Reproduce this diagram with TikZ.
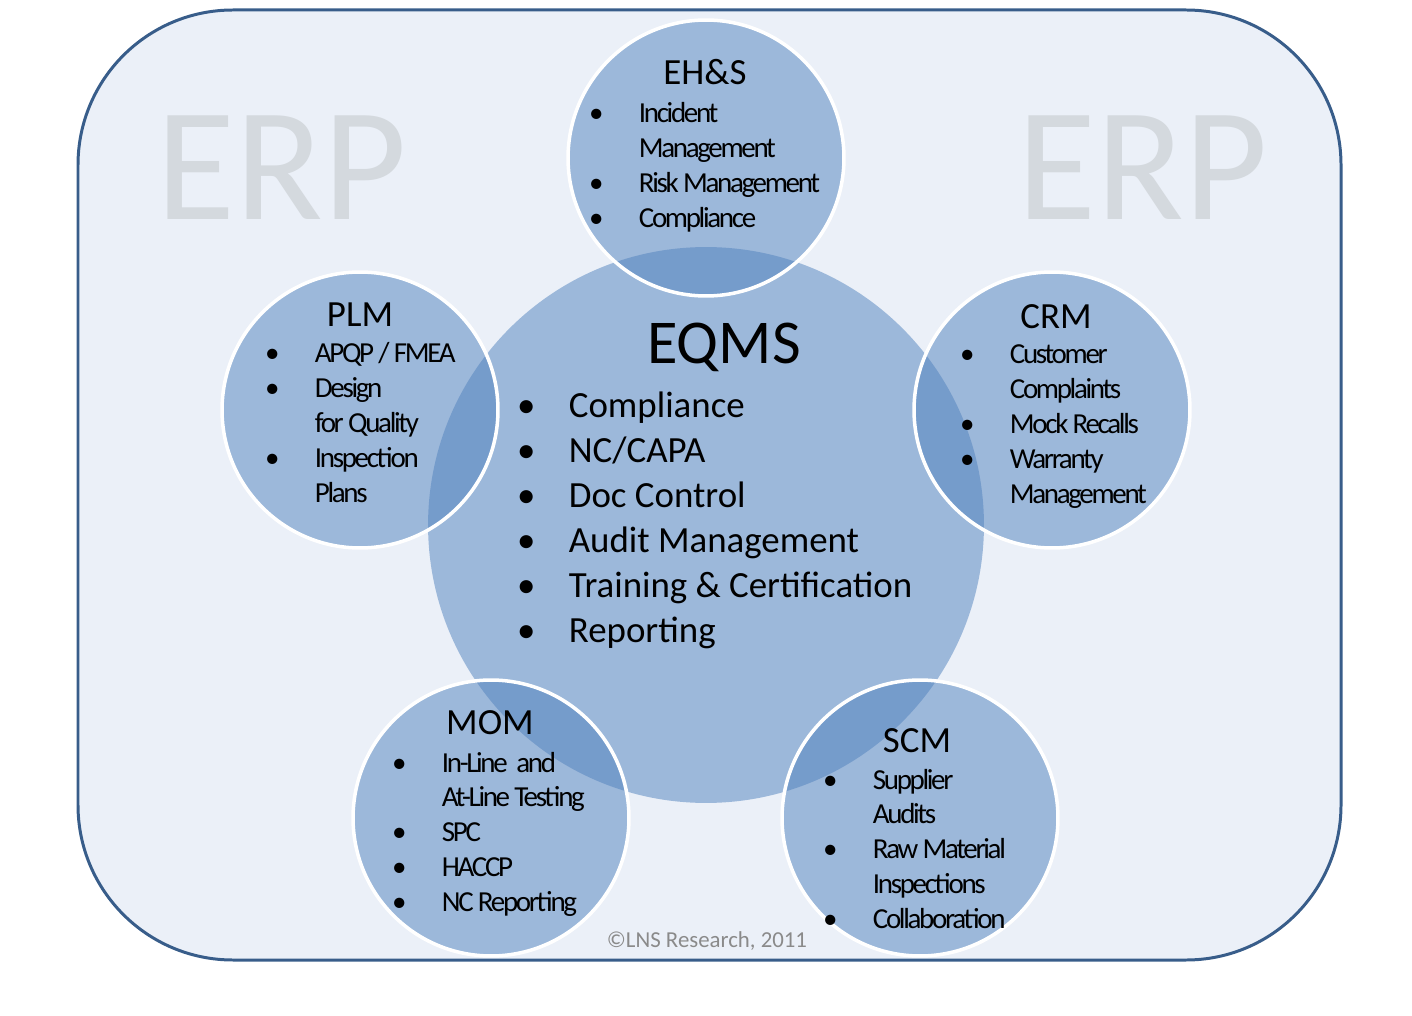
\documentclass[tikz,border=0pt]{standalone}
\usepackage{fontspec}
\setmainfont{Carlito}
\newfontfamily\tightfont[LetterSpace=-8]{Carlito}
\definecolor{framecol}{HTML}{385D8A}
\definecolor{paper}{HTML}{EBF0F8}
\definecolor{bubblecol}{HTML}{4F81BD}
\definecolor{erpgray}{HTML}{D4D9DE}
\definecolor{notegray}{HTML}{8A8A8A}
\newcommand{\bul}{\makebox[24.2pt][l]{\makebox[0pt]{\textbullet}}}
\begin{document}
\begin{tikzpicture}[x=0.02cm, y=-0.02cm,
  bigbubble/.style={circle, fill=bubblecol, fill opacity=0.5, inner sep=0pt, minimum size=11.12cm},
  bubble/.style={circle, fill=bubblecol, fill opacity=0.5, draw=white, draw opacity=1, line width=2pt, inner sep=0pt, minimum size=5.52cm},
  bigtitle/.style={font=\fontsize{35.5}{40}\selectfont, inner sep=0pt, anchor=base},
  title/.style={font=\fontsize{21}{25}\selectfont, inner sep=0pt, anchor=base},
  biglist/.style={font=\fontsize{21}{25.5}\selectfont, inner sep=0pt, anchor=base west},
  smalllist/.style={font=\tightfont\fontsize{16.5}{19.9}\selectfont, inner sep=0pt, anchor=base west},
  watermark/.style={erpgray, font=\fontsize{92}{92}\selectfont, inner sep=0pt, anchor=base}]
\useasboundingbox (0,0) rectangle (1412,1016);

% Draw the ERP frame
\draw[framecol, line width=1.7pt, fill=paper, rounded corners=3.1cm] (78,10) rectangle (1341,960);
\node[watermark] (erp-left) at (282,220) {ERP};
\node[watermark] (erp-right) at (1143,220) {ERP};

% Draw the circles
\node[bigbubble] (eqms) at (706,525) {};
\node[bubble] (ehs) at (706,158) {};
\node[bubble] (plm) at (360,410) {};
\node[bubble] (crm) at (1052,410) {};
\node[bubble] (mom) at (491,818) {};
\node[bubble] (scm) at (920,818) {};

% EQMS in the middle
\node[bigtitle] (eqms-title) at (724,364) {EQMS};
\node[biglist] (eqms-list) at (526,418) {\begin{tabular}[t]{@{}l@{}l@{}}
\bul & Compliance\\
\bul & NC/CAPA\\
\bul & Doc Control\\
\bul & Audit Management\\
\bul & Training \& Certification\\
\bul & Reporting
\end{tabular}};

% EH&S
\node[title] (ehs-title) at (705,85) {EH\&S};
\node[smalllist] (ehs-list) at (596,123) {\begin{tabular}[t]{@{}l@{}l@{}}
\bul & Incident\\
 & Management\\
\bul & Risk Management\\
\bul & Compliance
\end{tabular}};

% PLM
\node[title] (plm-title) at (360,327) {PLM};
\node[smalllist] (plm-list) at (272,363) {\begin{tabular}[t]{@{}l@{}l@{}}
\bul & APQP / FMEA\\
\bul & Design\\
 & for Quality\\
\bul & Inspection\\
 & Plans
\end{tabular}};

% CRM
\node[title] (crm-title) at (1056,329) {CRM};
\node[smalllist] (crm-list) at (967,364) {\begin{tabular}[t]{@{}l@{}l@{}}
\bul & Customer\\
 & Complaints\\
\bul & Mock Recalls\\
\bul & Warranty\\
 & Management
\end{tabular}};

% MOM
\node[title] (mom-title) at (490,734) {MOM};
\node[smalllist] (mom-list) at (399,772) {\begin{tabular}[t]{@{}l@{}l@{}}
\bul & In-Line\ \ and\\
 & At-Line Testing\\
\bul & SPC\\
\bul & HACCP\\
\bul & NC Reporting
\end{tabular}};

% SCM
\node[title] (scm-title) at (917,752) {SCM};
\node[smalllist] (scm-list) at (830,789) {\begin{tabular}[t]{@{}l@{}l@{}}
\bul & Supplier\\
 & Audits\\
\bul & Raw Material\\
 & Inspections\\
\bul & Collaboration
\end{tabular}};

% Copyright note
\node[notegray, font=\fontsize{13}{15}\selectfont, inner sep=0pt, anchor=base] (note) at (707,947) {©LNS Research, 2011};
\end{tikzpicture}
\end{document}
